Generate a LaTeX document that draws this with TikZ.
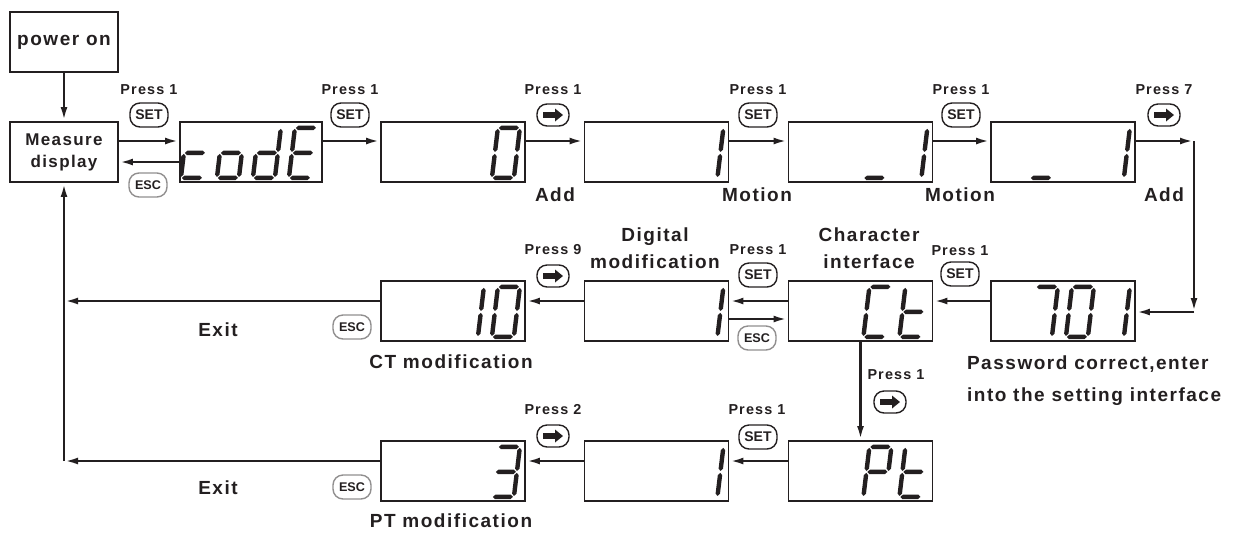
\documentclass[tikz,border=0pt]{standalone}
\usepackage{fontspec}
\setmainfont{Liberation Sans}
\newfontfamily\spaced[LetterSpace=8]{Liberation Sans}
\usetikzlibrary{arrows.meta}
\definecolor{ink}{RGB}{35,31,32}

% one horizontal / vertical segment, pointed ends, from the corner #1,#2
\newcommand{\hseg}[2]{\fill[ink] ({#1+1},#2) -- ({#1+3.2},{#2-2.2}) -- ({#1+18.8},{#2-2.2})
  -- ({#1+21},#2) -- ({#1+18.8},{#2+2.2}) -- ({#1+3.2},{#2+2.2}) -- cycle;}
\newcommand{\vseg}[2]{\fill[ink] (#1,{#2+1}) -- ({#1+2.2},{#2+3.2}) -- ({#1+2.2},{#2+21.8})
  -- (#1,{#2+24}) -- ({#1-2.2},{#2+21.8}) -- ({#1-2.2},{#2+3.2}) -- cycle;}
\newcommand{\sga}{\hseg{0}{-50}}
\newcommand{\sgb}{\vseg{22}{-50}}
\newcommand{\sgc}{\vseg{22}{-25}}
\newcommand{\sgd}{\hseg{0}{0}}
\newcommand{\sge}{\vseg{0}{-25}}
\newcommand{\sgf}{\vseg{0}{-50}}
\newcommand{\sgg}{\hseg{0}{-25}}

% seven segment digit: #1 display node, #2 cell counted from the right, #3 lit segments
\newcommand{\segdigit}[3]{%
  \begin{scope}[shift={(#1.south east)}, shift={({-34-36*#2},-5)}, xslant=0.12]
    \foreach \s in {#3} {\csname sg\s\endcsname}
  \end{scope}}

\begin{document}
\begin{tikzpicture}[x=0.5pt, y=-0.5pt,
    every node/.style={text=ink, font=\spaced\bfseries\fontsize{9.5}{13.5}\selectfont},
    lcd/.style={draw=ink, line width=0.9pt, minimum width=72pt, minimum height=30pt, inner sep=0pt},
    plain/.style={draw=ink, line width=0.9pt, minimum width=54pt, minimum height=30pt,
                  inner sep=0pt, align=center},
    press/.style={font=\spaced\bfseries\fontsize{7.2}{8}\selectfont},
    key/.style={draw=ink, line width=0.7pt, rounded corners=5pt, minimum width=19pt,
                minimum height=12pt, inner sep=0pt, font=\bfseries\fontsize{7}{8}\selectfont},
    esckey/.style={key, draw=ink!50, font=\bfseries\fontsize{6.3}{7}\selectfont},
    arrowkey/.style={key, minimum width=16pt, minimum height=11pt,
      path picture={\fill[ink, sharp corners, shift={(path picture bounding box.center)}]
        (-10,-2.8) -- (2,-2.8) -- (2,-6.5) -- (10,0) -- (2,6.5) -- (2,2.8) -- (-10,2.8) -- cycle;}},
    arr/.style={draw=ink, line width=1.3pt, -{Latex[length=7pt,width=3.4pt]}}]
  \useasboundingbox (0,0) rectangle (1244,532);

  % Start boxes
  \node[plain, font=\spaced\bfseries\fontsize{9.5}{11}\selectfont] (pwon) at (64,42) {power on};
  \node[plain, font=\spaced\bfseries\fontsize{8.5}{11}\selectfont] (meas) at (64,152) {Measure\\display};

  % Row 1: password entry
  \node[lcd, minimum width=71pt] (code) at (251,152) {};
  \node[lcd] (add0) at (453,152) {};
  \node[lcd] (mot1) at (656.5,152) {};
  \node[lcd] (mot2) at (860.5,152) {};
  \node[lcd] (add7) at (1063,152) {};

  % Row 2: CT setting
  \node[lcd] (ct10) at (453,311) {};
  \node[lcd] (dig) at (656.5,311) {};
  \node[lcd] (chr) at (860.5,311) {};
  \node[lcd] (p701) at (1063,311) {};

  % Row 3: PT setting
  \node[lcd] (pt3) at (453,471) {};
  \node[lcd] (pt1) at (656.5,471) {};
  \node[lcd] (ptc) at (860.5,471) {};

  % Display contents
  \segdigit{code}{3}{d,e,g}
  \segdigit{code}{2}{c,d,e,g}
  \segdigit{code}{1}{b,c,d,e,g}
  \segdigit{code}{0}{a,d,e,f,g}
  \segdigit{add0}{0}{a,b,c,d,e,f}
  \segdigit{mot1}{0}{b,c}
  \segdigit{mot2}{1}{d}
  \segdigit{mot2}{0}{b,c}
  \segdigit{add7}{2}{d}
  \segdigit{add7}{0}{b,c}
  \segdigit{p701}{2}{a,b,c}
  \segdigit{p701}{1}{a,b,c,d,e,f}
  \segdigit{p701}{0}{b,c}
  \segdigit{chr}{1}{a,d,e,f}
  \segdigit{chr}{0}{d,e,f,g}
  \segdigit{dig}{0}{b,c}
  \segdigit{ct10}{1}{b,c}
  \segdigit{ct10}{0}{a,b,c,d,e,f}
  \segdigit{ptc}{1}{a,b,e,f,g}
  \segdigit{ptc}{0}{d,e,f,g}
  \segdigit{pt1}{0}{b,c}
  \segdigit{pt3}{0}{a,b,c,d,g}

  % Turning points
  \coordinate (turnA) at (1194,141);
  \coordinate (turnB) at (1194,312);
  \coordinate (exitA) at (64,301);
  \coordinate (exitB) at (64,461);

  % Connectors
  \draw[arr] (pwon) -- (meas);
  \draw[arr] ([yshift=5.5pt]meas.east) -- ([yshift=5.5pt]code.west);
  \draw[arr] ([yshift=-5pt]code.west) -- ([yshift=-5pt]meas.east);
  \draw[arr] ([yshift=5.5pt]code.east) -- ([yshift=5.5pt]add0.west);
  \draw[arr] ([yshift=5.5pt]add0.east) -- ([yshift=5.5pt]mot1.west);
  \draw[arr] ([yshift=5.5pt]mot1.east) -- ([yshift=5.5pt]mot2.west);
  \draw[arr] ([yshift=5.5pt]mot2.east) -- ([yshift=5.5pt]add7.west);
  \draw[arr] ([yshift=5.5pt]add7.east) -- (turnA);
  \draw[arr] (turnA) -- (turnB);
  \draw[arr] (turnB) -- (turnB -| p701.east);
  \draw[arr] ([yshift=5pt]p701.west) -- ([yshift=5pt]chr.east);
  \draw[arr] ([yshift=5pt]chr.west) -- ([yshift=5pt]dig.east);
  \draw[arr] ([yshift=-4pt]dig.east) -- ([yshift=-4pt]chr.west);
  \draw[arr] ([yshift=5pt]dig.west) -- ([yshift=5pt]ct10.east);
  \draw[arr] ([yshift=5pt]ct10.west) -- (exitA);
  \draw[arr] (chr) -- (ptc);
  \draw[arr] ([yshift=5pt]ptc.west) -- ([yshift=5pt]pt1.east);
  \draw[arr] ([yshift=5pt]pt1.west) -- ([yshift=5pt]pt3.east);
  \draw[arr] ([yshift=5pt]pt3.west) -- (exitB);
  \draw[arr] (exitB) -- (meas.south);

  % Keys and labels, row 1
  \node[press] (p1) at (149,90) {Press 1};
  \node[key] (k1) at (149,115) {SET};
  \node[esckey] (e1) at (148,185) {ESC};
  \node[press] (p2) at (350,90) {Press 1};
  \node[key] (k2) at (350,115) {SET};
  \node[press] (p3) at (553,90) {Press 1};
  \node[arrowkey] (k3) at (553,115) {};
  \node[press] (p4) at (758,90) {Press 1};
  \node[key] (k4) at (758,115) {SET};
  \node[press] (p5) at (961,90) {Press 1};
  \node[key] (k5) at (961,115) {SET};
  \node[press] (p6) at (1164,90) {Press 7};
  \node[arrowkey] (k6) at (1164,115) {};
  \node (n3) at (555,195) {Add};
  \node (n4) at (757,195) {Motion};
  \node (n5) at (960,195) {Motion};
  \node (n6) at (1164,195) {Add};

  % Keys and labels, row 2
  \node[press] (p7) at (960,251) {Press 1};
  \node[key] (k7) at (960,274) {SET};
  \node[press] (p8) at (758,250) {Press 1};
  \node[key] (k8) at (758,275) {SET};
  \node[esckey] (e8) at (757,338) {ESC};
  \node[press] (p9) at (553,250) {Press 9};
  \node[arrowkey] (k9) at (553,276) {};
  \node[align=center] (chrlbl) at (869,248) {Character\\interface};
  \node[align=center] (diglbl) at (655,248) {Digital\\modification};
  \node (ex1) at (218,330) {Exit};
  \node[esckey] (e10) at (352,327) {ESC};
  \node (ctlbl) at (451,362) {CT modification};
  \node[align=left, anchor=west, font=\spaced\bfseries\fontsize{9.5}{16}\selectfont]
    (pwlbl) at (960,381) {Password correct,enter\\into the setting interface};
  \node[press] (p11) at (896,375) {Press 1};
  \node[arrowkey] (k11) at (890,402) {};

  % Keys and labels, row 3
  \node[press] (p12) at (757,410) {Press 1};
  \node[key] (k12) at (758,437) {SET};
  \node[press] (p13) at (553,410) {Press 2};
  \node[arrowkey] (k13) at (553,436) {};
  \node (ex2) at (218,488) {Exit};
  \node[esckey] (e14) at (352,487) {ESC};
  \node (ptlbl) at (451,521) {PT modification};
\end{tikzpicture}
\end{document}
